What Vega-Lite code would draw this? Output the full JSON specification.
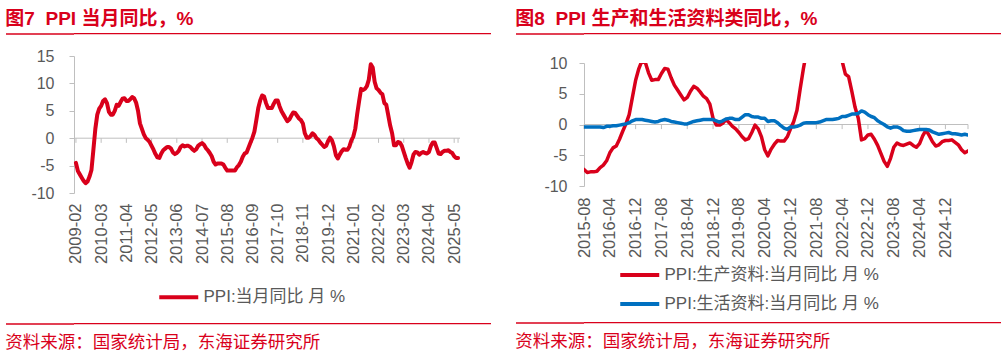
{
  "$schema": "https://vega.github.io/schema/vega-lite/v6.json",
  "background": "white",
  "padding": {"left": 5, "top": 9, "right": 0, "bottom": 8},
  "config": {
    "view": {"stroke": null},
    "font": "Liberation Sans, Noto Sans CJK SC",
    "axisY": {"title": null, "grid": false, "domainColor": "#BFBFBF", "tickColor": "#BFBFBF", "tickSize": 5, "labelFontSize": 16, "labelColor": "#595959", "labelFont": "Liberation Sans", "labelOverlap": false, "minExtent": 68, "maxExtent": 68, "labelExpr": "'' + datum.value"},
    "axisX": {"title": null, "grid": false, "domain": false, "ticks": false, "labelAngle": 270, "labelFontSize": 16.5, "labelColor": "#595959", "labelFont": "Liberation Sans", "labelOverlap": false, "labelBound": false}
  },
  "resolve": {"scale": {"color": "independent", "x": "independent", "y": "independent"}, "legend": {"color": "independent"}},
  "datasets": {
    "ppi": [
      {"d":"2009-02","v":-4.5},{"d":"2009-03","v":-6.0},{"d":"2009-04","v":-6.6},{"d":"2009-05","v":-7.2},{"d":"2009-06","v":-7.8},{"d":"2009-07","v":-8.2},{"d":"2009-08","v":-7.9},{"d":"2009-09","v":-7.0},{"d":"2009-10","v":-5.8},{"d":"2009-11","v":-2.1},{"d":"2009-12","v":1.7},
      {"d":"2010-01","v":4.3},{"d":"2010-02","v":5.4},{"d":"2010-03","v":5.9},{"d":"2010-04","v":6.8},{"d":"2010-05","v":7.1},{"d":"2010-06","v":6.4},{"d":"2010-07","v":4.8},{"d":"2010-08","v":4.3},{"d":"2010-09","v":4.3},{"d":"2010-10","v":5.0},{"d":"2010-11","v":6.1},{"d":"2010-12","v":5.9},
      {"d":"2011-01","v":6.6},{"d":"2011-02","v":7.2},{"d":"2011-03","v":7.3},{"d":"2011-04","v":6.8},{"d":"2011-05","v":6.8},{"d":"2011-06","v":7.1},{"d":"2011-07","v":7.5},{"d":"2011-08","v":7.3},{"d":"2011-09","v":6.5},{"d":"2011-10","v":5.0},{"d":"2011-11","v":2.7},{"d":"2011-12","v":1.7},
      {"d":"2012-01","v":0.7},{"d":"2012-02","v":0.0},{"d":"2012-03","v":-0.3},{"d":"2012-04","v":-0.7},{"d":"2012-05","v":-1.4},{"d":"2012-06","v":-2.1},{"d":"2012-07","v":-2.9},{"d":"2012-08","v":-3.5},{"d":"2012-09","v":-3.6},{"d":"2012-10","v":-2.8},{"d":"2012-11","v":-2.2},{"d":"2012-12","v":-1.9},
      {"d":"2013-01","v":-1.6},{"d":"2013-02","v":-1.6},{"d":"2013-03","v":-1.9},{"d":"2013-04","v":-2.6},{"d":"2013-05","v":-2.9},{"d":"2013-06","v":-2.7},{"d":"2013-07","v":-2.3},{"d":"2013-08","v":-1.6},{"d":"2013-09","v":-1.3},{"d":"2013-10","v":-1.5},{"d":"2013-11","v":-1.4},{"d":"2013-12","v":-1.4},
      {"d":"2014-01","v":-1.6},{"d":"2014-02","v":-2.0},{"d":"2014-03","v":-2.3},{"d":"2014-04","v":-2.0},{"d":"2014-05","v":-1.4},{"d":"2014-06","v":-1.1},{"d":"2014-07","v":-0.9},{"d":"2014-08","v":-1.2},{"d":"2014-09","v":-1.8},{"d":"2014-10","v":-2.2},{"d":"2014-11","v":-2.7},{"d":"2014-12","v":-3.3},
      {"d":"2015-01","v":-4.3},{"d":"2015-02","v":-4.8},{"d":"2015-03","v":-4.6},{"d":"2015-04","v":-4.6},{"d":"2015-05","v":-4.6},{"d":"2015-06","v":-4.8},{"d":"2015-07","v":-5.4},{"d":"2015-08","v":-5.9},{"d":"2015-09","v":-5.9},{"d":"2015-10","v":-5.9},{"d":"2015-11","v":-5.9},{"d":"2015-12","v":-5.9},
      {"d":"2016-01","v":-5.3},{"d":"2016-02","v":-4.9},{"d":"2016-03","v":-4.3},{"d":"2016-04","v":-3.4},{"d":"2016-05","v":-2.8},{"d":"2016-06","v":-2.6},{"d":"2016-07","v":-1.7},{"d":"2016-08","v":-0.8},{"d":"2016-09","v":0.1},{"d":"2016-10","v":1.2},{"d":"2016-11","v":3.3},{"d":"2016-12","v":5.5},
      {"d":"2017-01","v":6.9},{"d":"2017-02","v":7.8},{"d":"2017-03","v":7.6},{"d":"2017-04","v":6.4},{"d":"2017-05","v":5.5},{"d":"2017-06","v":5.5},{"d":"2017-07","v":5.5},{"d":"2017-08","v":6.3},{"d":"2017-09","v":6.9},{"d":"2017-10","v":6.9},{"d":"2017-11","v":5.8},{"d":"2017-12","v":4.9},
      {"d":"2018-01","v":4.3},{"d":"2018-02","v":3.7},{"d":"2018-03","v":3.1},{"d":"2018-04","v":3.4},{"d":"2018-05","v":4.1},{"d":"2018-06","v":4.7},{"d":"2018-07","v":4.6},{"d":"2018-08","v":4.1},{"d":"2018-09","v":3.6},{"d":"2018-10","v":3.3},{"d":"2018-11","v":2.7},{"d":"2018-12","v":0.9},
      {"d":"2019-01","v":0.1},{"d":"2019-02","v":0.1},{"d":"2019-03","v":0.4},{"d":"2019-04","v":0.9},{"d":"2019-05","v":0.6},{"d":"2019-06","v":0.0},{"d":"2019-07","v":-0.3},{"d":"2019-08","v":-0.8},{"d":"2019-09","v":-1.2},{"d":"2019-10","v":-1.6},{"d":"2019-11","v":-1.4},{"d":"2019-12","v":-0.5},
      {"d":"2020-01","v":0.1},{"d":"2020-02","v":-0.4},{"d":"2020-03","v":-1.5},{"d":"2020-04","v":-3.1},{"d":"2020-05","v":-3.7},{"d":"2020-06","v":-3.0},{"d":"2020-07","v":-2.4},{"d":"2020-08","v":-2.0},{"d":"2020-09","v":-2.1},{"d":"2020-10","v":-2.1},{"d":"2020-11","v":-1.5},{"d":"2020-12","v":-0.4},
      {"d":"2021-01","v":0.3},{"d":"2021-02","v":1.7},{"d":"2021-03","v":4.4},{"d":"2021-04","v":6.8},{"d":"2021-05","v":9.0},{"d":"2021-06","v":8.8},{"d":"2021-07","v":9.0},{"d":"2021-08","v":9.5},{"d":"2021-09","v":10.7},{"d":"2021-10","v":13.5},{"d":"2021-11","v":12.9},{"d":"2021-12","v":10.3},
      {"d":"2022-01","v":9.1},{"d":"2022-02","v":8.8},{"d":"2022-03","v":8.3},{"d":"2022-04","v":8.0},{"d":"2022-05","v":6.4},{"d":"2022-06","v":6.1},{"d":"2022-07","v":4.2},{"d":"2022-08","v":2.3},{"d":"2022-09","v":0.9},{"d":"2022-10","v":-1.3},{"d":"2022-11","v":-1.3},{"d":"2022-12","v":-0.7},
      {"d":"2023-01","v":-0.8},{"d":"2023-02","v":-1.4},{"d":"2023-03","v":-2.5},{"d":"2023-04","v":-3.6},{"d":"2023-05","v":-4.6},{"d":"2023-06","v":-5.4},{"d":"2023-07","v":-4.4},{"d":"2023-08","v":-3.0},{"d":"2023-09","v":-2.5},{"d":"2023-10","v":-2.6},{"d":"2023-11","v":-3.0},{"d":"2023-12","v":-2.7},
      {"d":"2024-01","v":-2.5},{"d":"2024-02","v":-2.7},{"d":"2024-03","v":-2.8},{"d":"2024-04","v":-2.5},{"d":"2024-05","v":-1.4},{"d":"2024-06","v":-0.8},{"d":"2024-07","v":-0.8},{"d":"2024-08","v":-1.8},{"d":"2024-09","v":-2.8},{"d":"2024-10","v":-2.9},{"d":"2024-11","v":-2.5},{"d":"2024-12","v":-2.3},
      {"d":"2025-01","v":-2.3},{"d":"2025-02","v":-2.2},{"d":"2025-03","v":-2.5},{"d":"2025-04","v":-2.7},{"d":"2025-05","v":-3.3},{"d":"2025-06","v":-3.6},{"d":"2025-07","v":-3.6}
    ],
    "pl": [
      {"d":"2015-08","p":-7.3,"l":-0.4},{"d":"2015-09","p":-7.8,"l":-0.4},{"d":"2015-10","p":-7.7,"l":-0.4},{"d":"2015-11","p":-7.7,"l":-0.4},{"d":"2015-12","p":-7.6,"l":-0.4},
      {"d":"2016-01","p":-7.0,"l":-0.4},{"d":"2016-02","p":-6.6,"l":-0.5},{"d":"2016-03","p":-5.9,"l":-0.3},{"d":"2016-04","p":-4.6,"l":-0.3},{"d":"2016-05","p":-3.8,"l":-0.2},{"d":"2016-06","p":-3.5,"l":-0.2},{"d":"2016-07","p":-2.4,"l":-0.1},{"d":"2016-08","p":-1.1,"l":0.0},{"d":"2016-09","p":0.1,"l":0.1},{"d":"2016-10","p":1.6,"l":0.3},{"d":"2016-11","p":4.4,"l":0.6},{"d":"2016-12","p":7.2,"l":0.8},
      {"d":"2017-01","p":9.1,"l":0.8},{"d":"2017-02","p":10.4,"l":0.8},{"d":"2017-03","p":10.1,"l":0.7},{"d":"2017-04","p":8.4,"l":0.6},{"d":"2017-05","p":7.2,"l":0.5},{"d":"2017-06","p":7.3,"l":0.4},{"d":"2017-07","p":7.3,"l":0.5},{"d":"2017-08","p":8.3,"l":0.7},{"d":"2017-09","p":9.1,"l":0.8},{"d":"2017-10","p":9.0,"l":0.7},{"d":"2017-11","p":7.6,"l":0.5},{"d":"2017-12","p":6.4,"l":0.4},
      {"d":"2018-01","p":5.6,"l":0.3},{"d":"2018-02","p":4.8,"l":0.2},{"d":"2018-03","p":4.0,"l":0.1},{"d":"2018-04","p":4.4,"l":0.1},{"d":"2018-05","p":5.4,"l":0.3},{"d":"2018-06","p":6.2,"l":0.5},{"d":"2018-07","p":5.9,"l":0.6},{"d":"2018-08","p":5.3,"l":0.7},{"d":"2018-09","p":4.6,"l":0.8},{"d":"2018-10","p":4.2,"l":0.8},{"d":"2018-11","p":3.3,"l":0.8},{"d":"2018-12","p":1.0,"l":0.8},
      {"d":"2019-01","p":-0.1,"l":0.6},{"d":"2019-02","p":-0.1,"l":0.4},{"d":"2019-03","p":0.2,"l":0.6},{"d":"2019-04","p":0.8,"l":0.9},{"d":"2019-05","p":0.3,"l":1.0},{"d":"2019-06","p":-0.3,"l":1.0},{"d":"2019-07","p":-0.7,"l":0.8},{"d":"2019-08","p":-1.3,"l":0.8},{"d":"2019-09","p":-2.0,"l":1.2},{"d":"2019-10","p":-2.5,"l":1.6},{"d":"2019-11","p":-2.3,"l":1.6},{"d":"2019-12","p":-1.3,"l":1.3},
      {"d":"2020-01","p":-0.1,"l":1.2},{"d":"2020-02","p":-0.7,"l":1.2},{"d":"2020-03","p":-2.0,"l":1.0},{"d":"2020-04","p":-4.1,"l":1.0},{"d":"2020-05","p":-5.1,"l":0.5},{"d":"2020-06","p":-4.0,"l":0.6},{"d":"2020-07","p":-3.2,"l":0.6},{"d":"2020-08","p":-2.6,"l":0.3},{"d":"2020-09","p":-2.7,"l":-0.2},{"d":"2020-10","p":-2.7,"l":-0.6},{"d":"2020-11","p":-2.0,"l":-0.8},{"d":"2020-12","p":-0.7,"l":-0.4},
      {"d":"2021-01","p":0.5,"l":-0.4},{"d":"2021-02","p":2.3,"l":-0.3},{"d":"2021-03","p":5.8,"l":-0.1},{"d":"2021-04","p":9.1,"l":0.2},{"d":"2021-05","p":12.0,"l":0.3},{"d":"2021-06","p":11.8,"l":0.3},{"d":"2021-07","p":12.0,"l":0.3},{"d":"2021-08","p":12.7,"l":0.3},{"d":"2021-09","p":14.3,"l":0.4},{"d":"2021-10","p":17.9,"l":0.6},{"d":"2021-11","p":17.0,"l":0.8},{"d":"2021-12","p":13.4,"l":0.8},
      {"d":"2022-01","p":11.8,"l":0.8},{"d":"2022-02","p":11.4,"l":0.9},{"d":"2022-03","p":10.7,"l":1.0},{"d":"2022-04","p":10.3,"l":1.3},{"d":"2022-05","p":8.2,"l":1.3},{"d":"2022-06","p":7.8,"l":1.5},{"d":"2022-07","p":5.4,"l":1.7},{"d":"2022-08","p":2.8,"l":1.7},{"d":"2022-09","p":1.0,"l":1.8},{"d":"2022-10","p":-2.5,"l":2.2},{"d":"2022-11","p":-2.3,"l":2.0},{"d":"2022-12","p":-1.7,"l":1.6},
      {"d":"2023-01","p":-1.6,"l":1.3},{"d":"2023-02","p":-2.4,"l":1.1},{"d":"2023-03","p":-3.4,"l":0.6},{"d":"2023-04","p":-4.7,"l":0.3},{"d":"2023-05","p":-6.0,"l":0.0},{"d":"2023-06","p":-6.8,"l":-0.4},{"d":"2023-07","p":-5.5,"l":-0.6},{"d":"2023-08","p":-3.7,"l":-0.4},{"d":"2023-09","p":-3.0,"l":-0.4},{"d":"2023-10","p":-3.3,"l":-0.6},{"d":"2023-11","p":-3.4,"l":-1.0},{"d":"2023-12","p":-3.2,"l":-1.1},
      {"d":"2024-01","p":-3.0,"l":-1.1},{"d":"2024-02","p":-3.4,"l":-1.0},{"d":"2024-03","p":-3.7,"l":-0.9},{"d":"2024-04","p":-3.1,"l":-0.8},{"d":"2024-05","p":-1.8,"l":-0.8},{"d":"2024-06","p":-0.9,"l":-0.8},{"d":"2024-07","p":-1.8,"l":-0.9},{"d":"2024-08","p":-2.8,"l":-1.2},{"d":"2024-09","p":-3.5,"l":-1.4},{"d":"2024-10","p":-3.3,"l":-1.6},{"d":"2024-11","p":-2.8,"l":-1.5},{"d":"2024-12","p":-2.6,"l":-1.4},
      {"d":"2025-01","p":-2.6,"l":-1.3},{"d":"2025-02","p":-2.5,"l":-1.5},{"d":"2025-03","p":-2.9,"l":-1.5},{"d":"2025-04","p":-3.3,"l":-1.6},{"d":"2025-05","p":-4.1,"l":-1.7},{"d":"2025-06","p":-4.6,"l":-1.6},{"d":"2025-07","p":-4.3,"l":-1.7}
    ],
    "ticks1": [
      {"d":"2009-02"},{"d":"2010-03"},{"d":"2011-04"},{"d":"2012-05"},{"d":"2013-06"},{"d":"2014-07"},{"d":"2015-08"},{"d":"2016-09"},{"d":"2017-10"},{"d":"2018-11"},{"d":"2019-12"},{"d":"2021-01"},{"d":"2022-02"},{"d":"2023-03"},{"d":"2024-04"},{"d":"2025-05"},{"d":"2025-07"}
    ],
    "ticks2": [
      {"d":"2015-08"},{"d":"2016-04"},{"d":"2016-12"},{"d":"2017-08"},{"d":"2018-04"},{"d":"2018-12"},{"d":"2019-08"},{"d":"2020-04"},{"d":"2020-12"},{"d":"2021-08"},{"d":"2022-04"},{"d":"2022-12"},{"d":"2023-08"},{"d":"2024-04"},{"d":"2024-12"},{"d":"2025-07"}
    ]
  },
  "hconcat": [
    {
      "vconcat": [
        {
          "vconcat": [
            {
              "width": 417, "height": 1.3,
              "data": {"values": [{}]},
              "mark": {"type": "text"},
              "encoding": {
                "y": {"datum": 0.5, "type": "quantitative", "scale": {"domain": [0, 1]},
                  "axis": {"values": [0.5], "labels": false, "domain": false, "ticks": true, "tickSize": 68, "tickColor": "#D9001B", "tickWidth": 1.3, "translate": 0, "minExtent": 68, "maxExtent": 68}}
              },
              "view": {"fill": "#D9001B", "stroke": null},
              "title": {"text": "图7\u00a0\u00a0PPI 当月同比，%", "anchor": "start", "frame": "bounds", "orient": "top", "fontSize": 19, "fontWeight": "bold", "color": "#D9001B", "font": "Liberation Sans, Noto Sans CJK SC", "baseline": "alphabetic", "offset": -16}
            },
            {
              "width": 386, "height": 137,
              "layer": [
                {
                  "data": {"values": [{}]},
                  "mark": {"type": "rule", "color": "#BFBFBF", "strokeWidth": 1},
                  "encoding": {"y": {"datum": 0, "type": "quantitative", "axis": {"values": [-10, -5, 0, 5, 10, 15], "labelPadding": 15}}}
                },
                {
                  "data": {"name": "ticks1"},
                  "mark": {"type": "rule", "color": "#BFBFBF", "strokeWidth": 1},
                  "encoding": {
                    "x": {"field": "d", "type": "ordinal", "axis": {"values": ["2009-02","2010-03","2011-04","2012-05","2013-06","2014-07","2015-08","2016-09","2017-10","2018-11","2019-12","2021-01","2022-02","2023-03","2024-04","2025-05"], "labelPadding": 10}},
                    "y": {"datum": 0, "type": "quantitative", "axis": {"values": [-10, -5, 0, 5, 10, 15], "labelPadding": 15}},
                    "y2": {"datum": -0.85}
                  }
                },
                {
                  "data": {"name": "ppi"},
                  "mark": {"type": "line", "strokeWidth": 4, "strokeJoin": "round", "strokeCap": "round"},
                  "encoding": {
                    "x": {"field": "d", "type": "ordinal", "scale": {"type": "point", "padding": 1},
                      "axis": {"values": ["2009-02","2010-03","2011-04","2012-05","2013-06","2014-07","2015-08","2016-09","2017-10","2018-11","2019-12","2021-01","2022-02","2023-03","2024-04","2025-05"], "labelPadding": 10}},
                    "y": {"field": "v", "type": "quantitative", "scale": {"domain": [-10, 15], "nice": false, "zero": false},
                      "axis": {"values": [-10, -5, 0, 5, 10, 15], "labelPadding": 15}},
                    "color": {"datum": "PPI:当月同比 月 %", "type": "nominal", "scale": {"domain": ["PPI:当月同比 月 %"], "range": ["#D9001B"]},
                      "legend": {"orient": "none", "legendX": 92.75, "legendY": 229.25, "title": null, "symbolType": "M-2,0H2", "symbolSize": 380, "symbolStrokeWidth": 4, "labelFontSize": 17, "labelColor": "#595959", "labelFont": "Liberation Sans, Noto Sans CJK SC", "labelOffset": 12.75, "labelLimit": 400, "padding": 0}}
                  }
                }
              ]
            }
          ],
          "spacing": 9,
          "resolve": {"scale": {"color": "independent"}, "legend": {"color": "independent"}}
        },
        {
          "width": 417, "height": 1.3,
          "data": {"values": [{}]},
          "mark": {"type": "text"},
          "encoding": {
            "y": {"datum": 0.5, "type": "quantitative", "scale": {"domain": [0, 1]},
              "axis": {"values": [0.5], "labels": false, "domain": false, "ticks": true, "tickSize": 68, "tickColor": "#D9001B", "tickWidth": 1.3, "translate": 0, "minExtent": 68, "maxExtent": 68}}
          },
          "view": {"fill": "#D9001B", "stroke": null},
          "title": {"text": "资料来源：国家统计局，东海证券研究所", "anchor": "start", "frame": "bounds", "orient": "bottom", "fontSize": 17.5, "fontWeight": "normal", "color": "#D9001B", "font": "Noto Sans CJK SC", "baseline": "top", "offset": 5}
        }
      ],
      "spacing": 11,
      "resolve": {"scale": {"color": "independent"}, "legend": {"color": "independent"}}
    },
    {
      "vconcat": [
        {
          "vconcat": [
            {
              "width": 417, "height": 1.3,
              "data": {"values": [{}]},
              "mark": {"type": "text"},
              "encoding": {
                "y": {"datum": 0.5, "type": "quantitative", "scale": {"domain": [0, 1]},
                  "axis": {"values": [0.5], "labels": false, "domain": false, "ticks": true, "tickSize": 68, "tickColor": "#D9001B", "tickWidth": 1.3, "translate": 0, "minExtent": 68, "maxExtent": 68}}
              },
              "view": {"fill": "#D9001B", "stroke": null},
              "title": {"text": "图8\u00a0\u00a0PPI 生产和生活资料类同比，%", "anchor": "start", "frame": "bounds", "orient": "top", "fontSize": 19, "fontWeight": "bold", "color": "#D9001B", "font": "Liberation Sans, Noto Sans CJK SC", "baseline": "alphabetic", "offset": -16}
            },
            {
              "width": 384, "height": 123,
              "data": {"name": "pl"},
              "layer": [
                {
                  "data": {"values": [{}]},
                  "mark": {"type": "rule", "color": "#BFBFBF", "strokeWidth": 1},
                  "encoding": {"y": {"datum": 0, "type": "quantitative", "axis": {"values": [-10, -5, 0, 5, 10], "labelPadding": 12}}}
                },
                {
                  "data": {"name": "ticks2"},
                  "mark": {"type": "rule", "color": "#BFBFBF", "strokeWidth": 1},
                  "encoding": {
                    "x": {"field": "d", "type": "ordinal", "axis": {"values": ["2015-08","2016-04","2016-12","2017-08","2018-04","2018-12","2019-08","2020-04","2020-12","2021-08","2022-04","2022-12","2023-08","2024-04","2024-12"], "labelPadding": 11}},
                    "y": {"datum": 0, "type": "quantitative", "axis": {"values": [-10, -5, 0, 5, 10], "labelPadding": 12}},
                    "y2": {"datum": -0.75}
                  }
                },
                {
                  "mark": {"type": "line", "strokeWidth": 3.5, "strokeJoin": "round", "strokeCap": "round", "clip": true},
                  "encoding": {
                    "x": {"field": "d", "type": "ordinal", "scale": {"type": "point", "padding": 0},
                      "axis": {"values": ["2015-08","2016-04","2016-12","2017-08","2018-04","2018-12","2019-08","2020-04","2020-12","2021-08","2022-04","2022-12","2023-08","2024-04","2024-12"], "labelPadding": 11}},
                    "y": {"field": "p", "type": "quantitative", "scale": {"domain": [-10, 10], "nice": false, "zero": false},
                      "axis": {"values": [-10, -5, 0, 5, 10], "labelPadding": 12}},
                    "color": {"datum": "PPI:生产资料:当月同比 月 %", "type": "nominal",
                      "scale": {"domain": ["PPI:生产资料:当月同比 月 %", "PPI:生活资料:当月同比 月 %"], "range": ["#D9001B", "#0070C0"]},
                      "legend": {"orient": "none", "legendX": 43.75, "legendY": 200, "direction": "vertical", "rowPadding": 9, "title": null, "symbolType": "M-2,0H2", "symbolSize": 380, "symbolStrokeWidth": 4, "labelFontSize": 17, "labelColor": "#595959", "labelFont": "Liberation Sans, Noto Sans CJK SC", "labelOffset": 12.75, "labelLimit": 400, "padding": 0}}
                  }
                },
                {
                  "mark": {"type": "line", "strokeWidth": 3.5, "strokeJoin": "round", "strokeCap": "round", "clip": true},
                  "encoding": {
                    "x": {"field": "d", "type": "ordinal", "axis": {"values": ["2015-08","2016-04","2016-12","2017-08","2018-04","2018-12","2019-08","2020-04","2020-12","2021-08","2022-04","2022-12","2023-08","2024-04","2024-12"], "labelPadding": 11}},
                    "y": {"field": "l", "type": "quantitative", "axis": {"values": [-10, -5, 0, 5, 10], "labelPadding": 12}},
                    "color": {"datum": "PPI:生活资料:当月同比 月 %", "type": "nominal"}
                  }
                }
              ]
            }
          ],
          "spacing": 16,
          "resolve": {"scale": {"color": "independent"}, "legend": {"color": "independent"}}
        },
        {
          "width": 417, "height": 1.3,
          "data": {"values": [{}]},
          "mark": {"type": "text"},
          "encoding": {
            "y": {"datum": 0.5, "type": "quantitative", "scale": {"domain": [0, 1]},
              "axis": {"values": [0.5], "labels": false, "domain": false, "ticks": true, "tickSize": 68, "tickColor": "#D9001B", "tickWidth": 1.3, "translate": 0, "minExtent": 68, "maxExtent": 68}}
          },
          "view": {"fill": "#D9001B", "stroke": null},
          "title": {"text": "资料来源：国家统计局，东海证券研究所", "anchor": "start", "frame": "bounds", "orient": "bottom", "fontSize": 17.5, "fontWeight": "normal", "color": "#D9001B", "font": "Noto Sans CJK SC", "baseline": "top", "offset": 5}
        }
      ],
      "spacing": 4,
      "resolve": {"scale": {"color": "independent"}, "legend": {"color": "independent"}}
    }
  ],
  "spacing": 24
}
